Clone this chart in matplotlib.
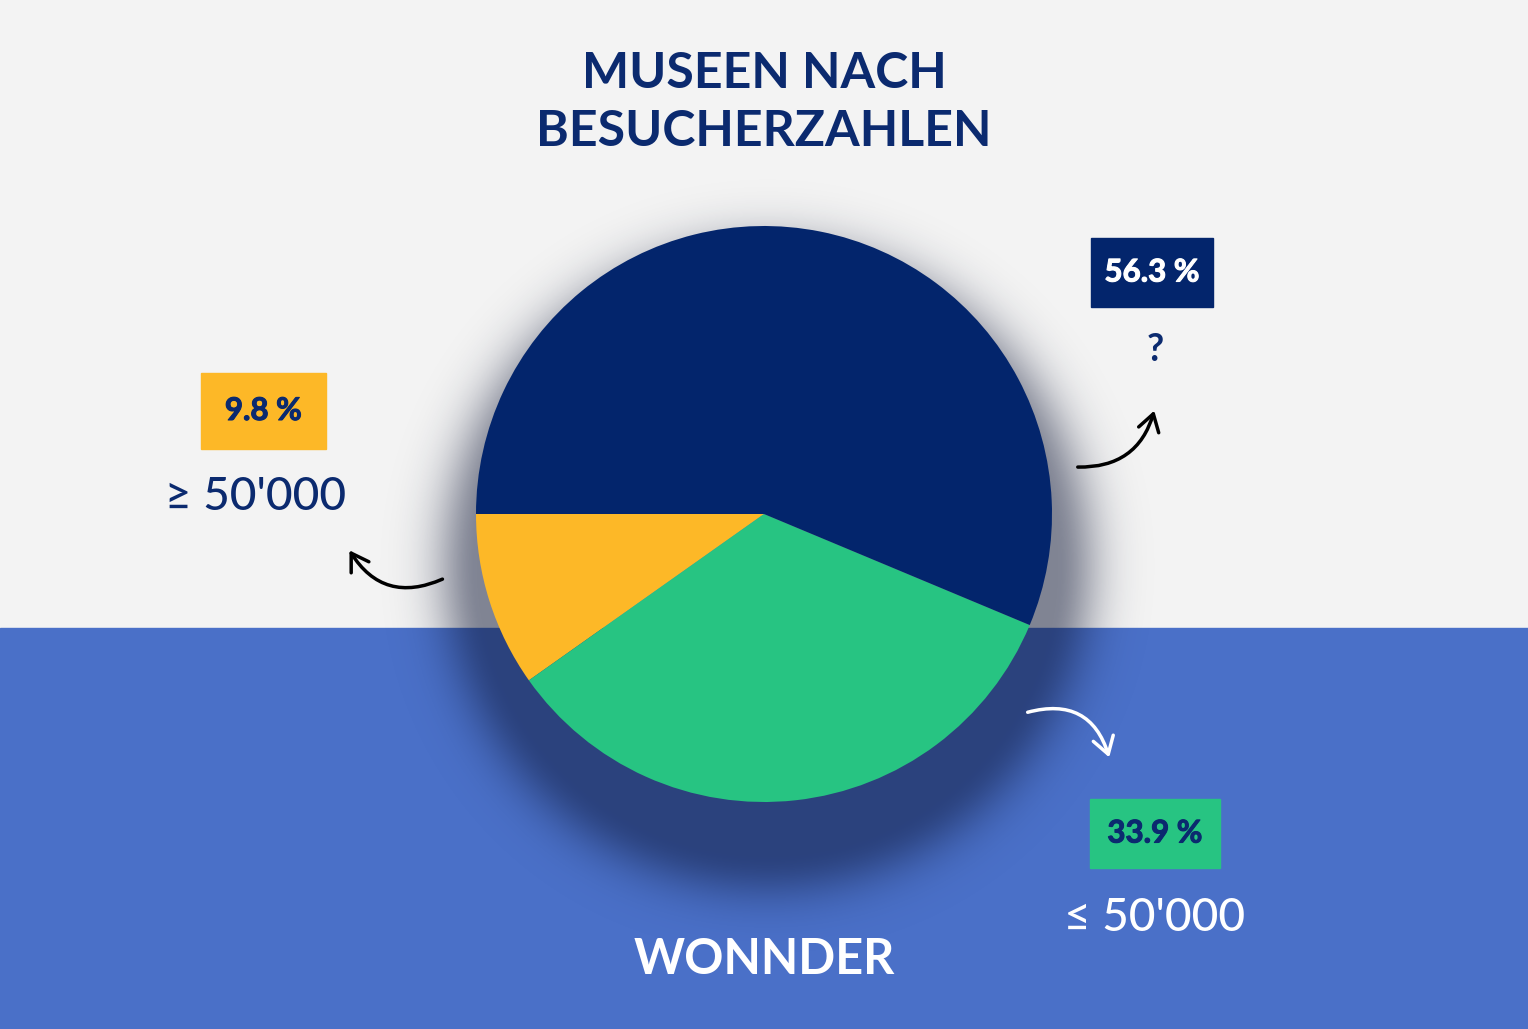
import numpy as np
import matplotlib
matplotlib.use("Agg")
import matplotlib.pyplot as plt
import matplotlib.patheffects as pe
from matplotlib.patches import Rectangle, FancyArrowPatch

# Daten (Anteile in %), Reihenfolge gegen den Uhrzeigersinn ab 180 Grad
kategorien = ["\u2265 50'000", "\u2264 50'000", "?"]
anteile = [9.8, 33.9, 56.3]
farben = ["#fdb827", "#27c482", "#03256c"]
titel = "MUSEEN NACH\nBESUCHERZAHLEN"
quelle = "WONNDER"

W, H = 1528, 1029
NAVY = "#0b2a6f"
BLAU = "#4a70c8"

plt.rcParams['font.family'] = ['Lato', 'DejaVu Sans']

fig = plt.figure(figsize=(W / 100, H / 100), dpi=100)
ax = fig.add_axes([0, 0, 1, 1])

def Y(y):
    return H - y

# Hintergrund
ax.add_patch(Rectangle((0, Y(628)), W, 628, color="#f3f3f3", zorder=0))
ax.add_patch(Rectangle((0, 0), W, Y(628), color=BLAU, zorder=0))

# weicher Schatten unter dem Kreis
cx, cy, r = 764, 514, 288
gx, gy = np.meshgrid(np.arange(W), np.arange(H))
d = np.hypot(gx - (cx + 3), gy - (cy + 52)) - r
alpha = 0.5 * np.exp(-(np.clip(d, 0, None) / 45.0) ** 2)
schatten = np.zeros((H, W, 4))
schatten[..., 0] = 0.05
schatten[..., 1] = 0.08
schatten[..., 2] = 0.2
schatten[..., 3] = alpha
ax.imshow(schatten, extent=(0, W, 0, H), origin="upper", zorder=1,
          interpolation="bilinear")

wedges, _ = ax.pie(anteile, colors=farben, startangle=180, counterclock=True,
                   center=(cx, Y(cy)), radius=r, frame=True,
                   wedgeprops=dict(linewidth=0))
for w in wedges:
    w.set_zorder(2)

# Titel, zwei Zeilen
for zeile, ty in zip(titel.split("\n"), [74, 132]):
    ax.text(764, Y(ty), zeile, ha="center", va="center", fontsize=36,
            fontweight="bold", color=NAVY, zorder=3)

# Beschriftungen: Kasten mit Prozent + Kategorie
boxen = [
    # (x0, y0, x1, y1, textfarbe, kat_x, kat_y, kat_farbe, kat_size, kat_weight)
    (201, 373, 326, 449, NAVY, 256, 497, NAVY, 33, "medium"),
    (1090, 799, 1220, 868, NAVY, 1155, 918, "white", 33, "medium"),
    (1091, 238, 1213, 307, "white", 1155, 350, NAVY, 27, "bold"),
]
for (x0, y0, x1, y1, tc, kx, ky, kc, ks, kw), wert, kat, fc in zip(
        boxen, anteile, kategorien, farben):
    ax.add_patch(Rectangle((x0, Y(y1)), x1 - x0, y1 - y0, color=fc, zorder=3))
    ax.text((x0 + x1) / 2, Y((y0 + y1) / 2), f"{wert} %", ha="center",
            va="center", fontsize=22.5, fontweight="bold", color=tc, zorder=4,
            path_effects=[pe.withStroke(linewidth=0.8, foreground=tc)])
    ax.text(kx, Y(ky), kat, ha="center", va="center", fontsize=ks,
            fontweight=kw, color=kc, zorder=4)

# Pfeile
pfeile = [
    ((445, 578), (348, 548), -0.45, "black"),
    ((1075, 467), (1155, 408), 0.4, "black"),
    ((1025, 713), (1110, 760), -0.5, "white"),
]
for (x0, y0), (x1, y1), rad, c in pfeile:
    ax.add_patch(FancyArrowPatch((x0, Y(y0)), (x1, Y(y1)),
                                 connectionstyle=f"arc3,rad={rad}",
                                 arrowstyle="->,head_length=8,head_width=5",
                                 lw=2.5, color=c, zorder=4,
                                 mutation_scale=1.5))

ax.text(764, Y(960), quelle, ha="center", va="center", fontsize=35,
        fontweight="bold", color="white", zorder=3)

ax.set_xlim(0, W)
ax.set_ylim(0, H)
ax.set_aspect("equal")
ax.set_axis_off()

fig.savefig("out.png", dpi=100)
